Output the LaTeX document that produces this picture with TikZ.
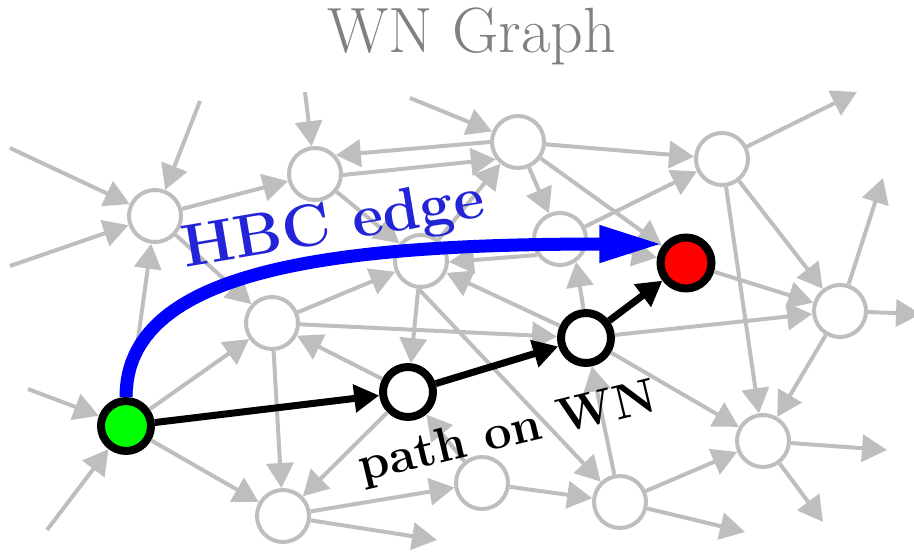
\documentclass[tikz,border=0pt]{standalone}
\usepackage{fontspec}
\usetikzlibrary{arrows.meta}
\definecolor{edgegray}{RGB}{190,190,190}
\definecolor{titlegray}{RGB}{128,128,128}
\definecolor{hbcblue}{RGB}{35,35,215}
\begin{document}
\begin{tikzpicture}[x=1pt,y=-1pt,
  gnode/.style={circle,draw=edgegray,line width=4pt,fill=white,minimum size=52pt,inner sep=0pt},
  bnode/.style={circle,draw=black,line width=8pt,fill=white,minimum size=50pt,inner sep=0pt},
  gedge/.style={draw=edgegray,line width=4pt,-{Triangle[length=25pt,width=27pt]}},
  bedge/.style={draw=black,line width=7pt,-{Triangle[length=25pt,width=27pt]}},
  blueedge/.style={draw=blue,line width=13pt,-{Triangle[length=64pt,width=34pt]}},
  lbl/.style={anchor=base,inner sep=0pt}]
\useasboundingbox (0,0) rectangle (914,553);
% gray nodes
\node[gnode] (A) at (155,216) {};
\node[gnode] (B) at (315,174) {};
\node[gnode] (C) at (518,142) {};
\node[gnode] (D) at (722,159) {};
\node[gnode] (E) at (560,239) {};
\node[gnode] (G) at (421,261) {};
\node[gnode] (H) at (840,311) {};
\node[gnode] (I) at (272,323) {};
\node[gnode] (L) at (763,441) {};
\node[gnode] (M) at (283,516) {};
\node[gnode] (N) at (482,483) {};
\node[gnode] (O) at (620,502) {};
% free ends
\coordinate (a1) at (10,148);
\coordinate (a2) at (200,101);
\coordinate (a3) at (10,266);
\coordinate (b1) at (305,92);
\coordinate (c1) at (410,98);
\coordinate (d1) at (857,92);
\coordinate (h1) at (883,178);
\coordinate (h2) at (921,314);
\coordinate (l1) at (887,450);
\coordinate (l2) at (823,522);
\coordinate (o1) at (745,532);
\coordinate (m1) at (437,540);
\coordinate (s1) at (28,389);
\coordinate (s2) at (47,530);
% path nodes
\node[bnode] (J) at (586,338) {};
\node[bnode] (K) at (408,392) {};
\node[bnode,fill=green] (S) at (126,426) {};
\node[bnode,fill=red,minimum size=51pt] (F) at (686,263) {};
% gray edges
\draw[gedge] (a1) -- (A);
\draw[gedge] (a2) -- (A);
\draw[gedge] (a3) -- (A);
\draw[gedge] (S) -- (A);
\draw[gedge] (A) -- (B);
\draw[gedge] (A) -- (I);
\draw[gedge] (b1) -- (B);
\draw[gedge] (C.180) -- (B.42);
\draw[gedge] (B.-2) -- (C.218);
\draw[gedge] (B) -- (G);
\draw[gedge] (c1) -- (C);
\draw[gedge] (G) -- (C);
\draw[gedge] (C) -- (E);
\draw[gedge] (C) -- (D);
\draw[gedge] (C) -- (F);
\draw[gedge] (I) -- (G);
\draw[gedge] (J) -- (G);
\draw[gedge] (E.215) -- (G.-2);
\draw[gedge] (E) -- (F);
\draw[gedge] (E) -- (D);
\draw[gedge] (D) -- (d1);
\draw[gedge] (D) -- (H);
\draw[gedge] (D) -- (L);
\draw[gedge] (F) -- (H);
\draw[gedge] (J) -- (H);
\draw[gedge] (H) -- (h1);
\draw[gedge] (H) -- (h2);
\draw[gedge] (H) -- (L);
\draw[gedge] (J) -- (L);
\draw[gedge] (L) -- (l1);
\draw[gedge] (L) -- (l2);
\draw[gedge] (O) -- (L);
\draw[gedge] (O) -- (o1);
\draw[gedge] (N) -- (O);
\draw[gedge] (O) -- (J);
\draw[gedge] (G.-95) -- (O);
\draw[gedge] (I) -- (J);
\draw[gedge] (K) -- (I);
\draw[gedge] (G) -- (K);
\draw[gedge] (K) -- (M);
\draw[gedge] (I) -- (M);
\draw[gedge] (S) -- (M);
\draw[gedge] (S) -- (I);
\draw[gedge] (s1) -- (S);
\draw[gedge] (s2) -- (S);
\draw[gedge] (M) -- (N);
\draw[gedge] (M) -- (m1);
\draw[gedge] (N) -- (K);
\draw[gedge] (J.95) -- (E.-55);
% path on WN
\draw[bedge] (S) -- (K);
\draw[bedge] (K) -- (J);
\draw[bedge] (J) -- (F);
% HBC edge
\draw[blueedge] (S.north) .. controls (126,270) and (330,244) .. (F.140);
% texts
\node[lbl,text=titlegray,font=\fontsize{64}{64}\selectfont] (title) at (472,53) {WN Graph};
\node[lbl,text=hbcblue,rotate=9.5,font=\bfseries\fontsize{60}{60}\selectfont] (hbc) at (336,242) {HBC edge};
\node[lbl,rotate=13.5,font=\bfseries\fontsize{49}{49}\selectfont] (pathlbl) at (511,446) {path on WN};
\end{tikzpicture}
\end{document}
